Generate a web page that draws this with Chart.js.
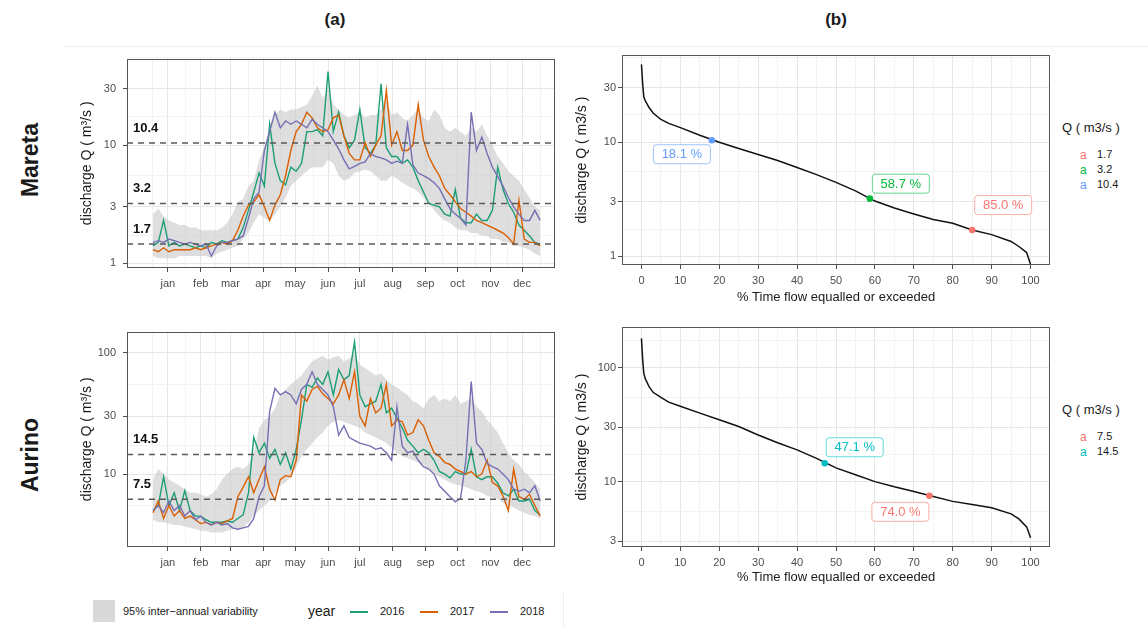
<!DOCTYPE html>
<html>
<head>
<meta charset="utf-8">
<script src="https://cdn.jsdelivr.net/npm/chart.js@4.4.1/dist/chart.umd.min.js"></script>
<style>
  body { margin: 0; background: #fff; font-family: "Liberation Sans", Arial, sans-serif; }
  #fig { position: relative; width: 1148px; height: 627px; overflow: hidden; background: #fff; }
  #fig canvas { position: absolute; }
  .t { position: absolute; white-space: nowrap; color: #1a1a1a; line-height: 1; }
  .c { transform: translate(-50%, -50%); }
  .rot { transform: translate(-50%, -50%) rotate(-90deg); }
  .sep { position: absolute; background: #eeeeee; }
</style>
</head>
<body>
<div id="fig">
  <div class="sep" style="left:65px;top:46px;width:1083px;height:1px"></div>
  <div class="sep" style="left:563px;top:592px;width:1px;height:35px"></div>

  <div class="t c" style="left:335px;top:19px;font-size:17px;font-weight:bold">(a)</div>
  <div class="t c" style="left:836px;top:19px;font-size:17px;font-weight:bold">(b)</div>
  <div class="t rot" style="left:30px;top:160px;font-size:23px;font-weight:bold">Mareta</div>
  <div class="t rot" style="left:30px;top:455px;font-size:23px;font-weight:bold">Aurino</div>

  <canvas id="hydroMareta" width="505" height="255" style="left:60px;top:45px"></canvas>
  <canvas id="fdcMareta" width="490" height="270" style="left:570px;top:45px"></canvas>
  <canvas id="hydroAurino" width="505" height="260" style="left:60px;top:318px"></canvas>
  <canvas id="fdcAurino" width="490" height="280" style="left:570px;top:318px"></canvas>

  <div id="legMareta"></div>
  <div id="legAurino"></div>

  <!-- legenda in basso -->
  <div style="position:absolute;left:93px;top:600px;width:22px;height:22px;background:#d9d9d9"></div>
  <div class="t" style="left:123px;top:606px;font-size:11px">95% inter&#8722;annual variability</div>
  <div class="t" style="left:308px;top:604px;font-size:14px">year</div>
  <div style="position:absolute;left:350px;top:611px;width:18px;height:2px;background:#1b9e77"></div>
  <div class="t" style="left:380px;top:606px;font-size:11px">2016</div>
  <div style="position:absolute;left:420px;top:611px;width:18px;height:2px;background:#d95f02"></div>
  <div class="t" style="left:450px;top:606px;font-size:11px">2017</div>
  <div style="position:absolute;left:490px;top:611px;width:18px;height:2px;background:#7570b3"></div>
  <div class="t" style="left:520px;top:606px;font-size:11px">2018</div>
</div>

<script>
// ---- giorni dell'anno (passo 5) e mesi ----
const days = [1,6,11,16,21,26,31,36,41,46,51,56,61,66,71,76,81,86,91,96,101,106,111,116,121,126,131,136,141,146,
  151,156,161,166,171,176,181,186,191,196,201,206,211,216,221,226,231,236,241,246,251,256,261,266,271,276,281,286,291,296,
  301,306,311,316,321,326,331,336,341,346,351,356,361,366];
const monthNames = ['jan','feb','mar','apr','may','jun','jul','aug','sep','oct','nov','dec'];
const monthMid   = [15,46,74,105,135,166,196,227,258,288,319,349];
const monthStart = [1,32,60,91,121,152,182,213,244,274,305,335,366];

// ---- Mareta: portata giornaliera (m3/s) ----
const maretaQ2016 = [1.4,1.5,2.3,1.4,1.5,1.4,1.45,1.4,1.35,1.4, 1.35,1.5,1.45,1.55,1.5,1.55,1.6,2.0,2.8,4.0,
  5.8,4.5,15,7.0,5.0,4.6,6.5,6.0,7.0,13, 13,13.5,12,42,13,19,12,9.5,11,20, 9.5,8.5,10,33,9.5,8,8,7,7.5,6.5,
  5,4.0,3.2,3.1,3.0,2.6,2.5,4.2,2.4,2.2, 2.2,2.6,2.3,2.3,2.8,6.5,4.2,3.2,2.7,2.1, 1.9,1.7,1.5,1.45];
const maretaQ2017 = [1.3,1.25,1.35,1.25,1.3,1.3,1.3,1.3,1.35,1.3, 1.35,1.4,1.45,1.5,1.45,1.55,1.9,2.5,3.1,3.3,
  3.8,3.0,2.3,3.1,3.8,5.5,9,13,15,19, 17,14,13,13.5,17,18,12,8.5,7.5,7.5, 10.5,8,10,12,29,10,13,9,9,10,
  22,11,8,6.5,5.5,4.3,3.8,3.3,2.9,2.7, 2.5,2.3,2.2,2.1,2.0,1.9,1.8,1.65,1.45,3.4, 1.6,1.5,1.5,1.4];
const maretaQ2018 = [1.5,1.55,1.5,1.6,1.55,1.5,1.45,1.5,1.45,1.4, 1.45,1.15,1.4,1.5,1.5,1.55,1.6,1.7,2.4,3.5,
  4.0,9,13,19,14,16,15,16,15,14, 16.5,15,14,13,11,9.3,7.5,6.3,6.6,7, 7.2,8.5,8,7.8,7.5,7,7.3,7,15,6.8,
  5.8,5.5,5.2,4.8,4.3,3.5,2.9,2.6,2.4,2.1, 19,9,11.7,8.5,6.5,5.4,4.5,3.6,3.0,2.6, 2.3,2.3,2.8,2.3];
const maretaBandHi = [2.6,2.9,2.5,2.3,2.2,2.1,2.1,2.0,2.0,1.9, 1.9,1.9,1.9,2.0,2.2,2.6,3.3,3.5,4.5,5,
  7.5,9.5,15,18,20,19,20,20,21,22, 26,32,25,30,22,20,18,17,18,19, 17,18,18,20,24,18,19,17,16,18,
  20,17,16,20,18,14,13,14,13,12, 14,13,15,12,10,8,7,6,5.5,5, 4.2,3.6,3.0,2.8];
const maretaBandLo = [1.15,1.1,1.1,1.1,1.1,1.15,1.15,1.15,1.15,1.15, 1.15,1.1,1.2,1.25,1.3,1.35,1.4,1.6,1.8,2.2,
  2.6,2.4,2.3,2.6,3.0,3.6,4.5,5,5.5,6, 6.5,6.5,6.5,7.5,7,5.5,5,5.2,5.8,6, 6.2,6,5.5,5,5,5.5,5.2,4.8,4.5,4.3,
  4.0,3.6,3.2,2.8,2.5,2.3,2.2,2.0,1.9,1.9, 1.8,1.8,1.7,1.7,1.6,1.6,1.5,1.5,1.4,1.4, 1.35,1.3,1.2,1.15];

// ---- Aurino: portata giornaliera (m3/s) ----
const aurinoQ2016 = [5.0,5.5,9.5,5.5,7.0,5.0,7.3,5.0,4.5,4.5, 4.2,4.0,4.0,4.0,4.1,4.0,4.3,4.6,7.0,20,
  15,18,13.5,16,12,15,11,16,28,55, 52,62,55,70,45,73,60,65,123,45, 36,38,40,55,32,35,29,24,19,17,
  15,16,15,13,10.5,10,9.3,10.5,10,10, 16,9.5,9,9.5,9.5,8.4,7,6.6,7.5,6, 6,6.2,5,4.6];
const aurinoQ2017 = [4.8,6,4.3,5.5,4.5,5,4.3,4.5,4.2,3.9, 4.0,3.8,4.0,3.9,4.1,4.3,6.5,7.8,9.5,7,
  9,11.5,7.5,6.1,9,9.7,9.5,13,45,40, 50,53,46,42,38,45,60,42,70,30, 25,42,32,35,55,25,28,27,21,22,
  28,25,19,15,14,12.5,12,11,10.5,10, 10.5,9.5,10,13,8.5,8,6.6,5,11,6.5, 6.2,6.8,5.5,4.5];
const aurinoQ2018 = [5,5.5,4.8,6,5,5.5,4.5,5,4.2,4.5, 4.0,3.8,4.0,3.8,3.9,3.6,3.5,3.6,3.7,4.3,
  6.5,8,33,51,45,48,45,38,50,55, 70,55,50,45,36,21,25,20,19,18, 17.5,17,16,16.5,15,13,36,17,15,15.5,
  13,11.5,11,10,8,7.2,6.5,5.9,6.3,13, 58,18,16,12.2,11.5,11,10,9,7.5,7.2, 7.5,7,8,6];
const aurinoBandHi = [9,11,10,9,8.5,8,7.5,7,7,6.8, 6.5,6.8,7.5,9,10,11,11.5,11,12,15,
  24,28,30,35,45,50,55,60,65,75, 85,90,95,88,92,95,85,90,100,80, 75,70,65,68,60,55,52,48,45,40,
  38,35,42,45,40,42,40,45,38,40, 42,36,33,28,25,22,18,15,13,12, 10.5,9.5,8.5,7.5];
const aurinoBandLo = [4.2,4.0,4.0,3.9,3.8,3.8,3.7,3.6,3.5,3.4, 3.4,3.3,3.3,3.3,3.4,3.5,3.5,3.6,4.0,4.5,
  5,5.5,6.0,7.0,8,8.5,9.5,11.5,14,16, 18,20,22,25,27,28,27,26,25,24, 22,21,20,19,18,16.5,15,14,13.5,13,
  12.5,12,11,10,9.5,9,8.5,8.2,8,7.8, 7.5,7.2,7,6.6,6.4,6.2,5.8,5.5,5.3,5.0, 4.8,4.6,4.5,4.3];

// ---- soglie ----
const maretaThrLabels = ['10.4','3.2','1.7'];
const maretaThrLevel  = [10.4, 3.2, 1.45];
const aurinoThrLabels = ['14.5','7.5'];
const aurinoThrLevel  = [14.5, 6.2];

// ---- curve di durata ----
const fdcPct     = [0,0.3,0.6,1,2,3,5,7,10,15,20,25,30,35,40,45,50,55,60,65,70,75,80,85,90,95,97,99,100];
const fdcQMareta = [48,33,25,23,20,18,15.8,14.6,13.4,11.5,10,8.8,7.8,6.9,6.0,5.2,4.45,3.75,3.05,2.65,2.35,2.1,1.95,1.7,1.55,1.35,1.22,1.08,0.85];
const fdcQAurino = [182,120,90,80,68,61,55,50,46,40,35,30.5,25.7,22,19,16,13.2,11.5,10,9,8.2,7.4,6.7,6.3,5.9,5.2,4.7,4.0,3.2];
const markPctMareta  = [85.0, 58.7, 18.1];
const markQMareta    = [1.7, 3.2, 10.4];
const markTextMareta = ['85.0 %','58.7 %','18.1 %'];
const markPctAurino  = [74.0, 47.1];
const markQAurino    = [7.5, 14.5];
const markTextAurino = ['74.0 %','47.1 %'];

// ---- tick ----
const yTicksMareta = [1,3,10,30];      const yMinorMareta = [1.73,5.48,17.3,54.8];
const yTicksAurino = [10,30,100];      const yMinorAurino = [5.48,17.3,54.8];
const yTicksFdcA   = [3,10,30,100];    const yMinorFdcA   = [5.48,17.3,54.8,173];
const pctTicks = [0,10,20,30,40,50,60,70,80,90,100];
const pctMinor = [5,15,25,35,45,55,65,75,85,95];

// ─────────────────────────────────────────────────────────────
const FONT = '"Liberation Sans", Arial, sans-serif';
Chart.defaults.font.family = FONT;
const red = '#F8766D', green = '#00BA38', blue = '#619CFF', teal = '#00BFC4';

const gridOpts = minor => ({
  color:     c => (c.tick && minor.includes(c.tick.value)) ? '#f3f3f3' : '#e6e6e6',
  tickColor: c => (c.tick && minor.includes(c.tick.value)) ? 'rgba(0,0,0,0)' : '#4d4d4d',
  tickLength: 4, lineWidth: 1
});

const panelBorder = {
  id: 'panelBorder',
  afterDraw(chart) {
    const { ctx, chartArea: a } = chart;
    ctx.save();
    ctx.strokeStyle = '#555';
    ctx.lineWidth = 1;
    ctx.strokeRect(Math.round(a.left) + 0.5, Math.round(a.top) + 0.5, Math.round(a.width) - 1, Math.round(a.height) - 1);
    ctx.restore();
  }
};

const thrText = {
  id: 'thrText',
  afterDatasetsDraw(chart, args, o) {
    const { ctx, chartArea, scales: { y } } = chart;
    ctx.save();
    ctx.font = 'bold 13px ' + FONT;
    ctx.fillStyle = '#111';
    ctx.textBaseline = 'middle';
    o.levels.forEach((v, i) => ctx.fillText(o.labels[i], chartArea.left + 6, y.getPixelForValue(v) - 15));
    ctx.restore();
  }
};

const markLabels = {
  id: 'markLabels',
  afterDatasetsDraw(chart, args, o) {
    const { ctx, scales: { x, y } } = chart;
    ctx.save();
    ctx.font = '13px ' + FONT;
    ctx.textAlign = 'center';
    ctx.textBaseline = 'middle';
    o.pct.forEach((p, i) => {
      const cx = x.getPixelForValue(p) + o.off[i][0];
      const cy = y.getPixelForValue(o.q[i]) + o.off[i][1];
      const w = 57, h = 19;
      ctx.beginPath();
      ctx.roundRect(cx - w / 2, cy - h / 2, w, h, 3);
      ctx.fillStyle = '#fff';
      ctx.fill();
      ctx.strokeStyle = o.colors[i];
      ctx.globalAlpha = 0.6;
      ctx.lineWidth = 1;
      ctx.stroke();
      ctx.globalAlpha = 1;
      ctx.fillStyle = o.colors[i];
      ctx.fillText(o.text[i], cx, cy + 0.5);
    });
    ctx.restore();
  }
};

function logAxis(ticks, minor, min, max, title, pad, width) {
  const all = ticks.concat(minor).sort((a, b) => a - b);
  return {
    type: 'logarithmic', position: 'left', min, max,
    afterBuildTicks: s => { s.ticks = all.map(v => ({ value: v })); },
    afterFit: s => { s.width = width; },
    ticks: { autoSkip: false, color: '#4d4d4d', font: { size: 11 }, padding: pad,
             callback: v => ticks.includes(v) ? String(v) : '' },
    grid: gridOpts(minor),
    border: { display: false },
    title: { display: true, text: title, color: '#1a1a1a', font: { size: 14 }, padding: { top: 4, bottom: 0 } }
  };
}

function hydroChart(id, q16, q17, q18, hi, lo, thrLevel, thrLabels, yr, yTicks, yMinor, xH, pad) {
  const pts = arr => days.map((d, i) => ({ x: d, y: arr[i] }));
  const xMin = -23.5, xMax = 380;
  const line = (arr, col, ord) => ({ data: pts(arr), borderColor: col, borderWidth: 1.4, pointRadius: 0, fill: false, order: ord });
  const datasets = [
    { data: pts(lo), borderWidth: 0, pointRadius: 0, fill: false, order: 10 },
    { data: pts(hi), borderWidth: 0, pointRadius: 0, fill: '-1', backgroundColor: 'rgba(195,195,195,0.55)', order: 9 },
    line(q16, '#1b9e77', 5),
    line(q17, '#d95f02', 4),
    line(q18, '#7570b3', 3)
  ];
  thrLevel.forEach(v => datasets.push({
    data: [{ x: xMin, y: v }, { x: xMax, y: v }], borderColor: '#5a5a5a', borderWidth: 1.5,
    borderDash: [6, 5], pointRadius: 0, fill: false, order: 1
  }));
  const xAll = monthMid.concat(monthStart).sort((a, b) => a - b);
  new Chart(document.getElementById(id), {
    type: 'line',
    data: { datasets },
    plugins: [panelBorder, thrText],
    options: {
      responsive: false, animation: false, devicePixelRatio: 1,
      layout: { padding: pad },
      plugins: { legend: { display: false }, tooltip: { enabled: false },
                 thrText: { levels: thrLevel, labels: thrLabels } },
      scales: {
        x: {
          type: 'linear', min: xMin, max: xMax,
          afterBuildTicks: s => { s.ticks = xAll.map(v => ({ value: v })); },
          afterFit: s => { s.height = xH; },
          ticks: { autoSkip: false, maxRotation: 0, color: '#4d4d4d', font: { size: 11 }, padding: 5,
                   callback: v => { const k = monthMid.indexOf(v); return k >= 0 ? monthNames[k] : ''; } },
          grid: gridOpts(monthStart),
          border: { display: false }
        },
        y: logAxis(yTicks, yMinor, yr[0], yr[1], 'discharge Q ( m\u00b3/s )', 7, 52)
      }
    }
  });
}

function fdcChart(id, q, mPct, mQ, mText, mColors, offs, yr, yTicks, yMinor, xH, pad, titlePadBottom) {
  const all = pctTicks.concat(pctMinor).sort((a, b) => a - b);
  new Chart(document.getElementById(id), {
    type: 'line',
    data: { datasets: [
      { data: fdcPct.map((p, i) => ({ x: p, y: q[i] })), borderColor: '#111', borderWidth: 1.5, pointRadius: 0, fill: false, order: 2 },
      { type: 'scatter', data: mPct.map((p, i) => ({ x: p, y: mQ[i] })), backgroundColor: mColors, pointBackgroundColor: mColors,
        pointBorderWidth: 0, pointRadius: 3.3, order: 1 }
    ] },
    plugins: [panelBorder, markLabels],
    options: {
      responsive: false, animation: false, devicePixelRatio: 1,
      layout: { padding: pad },
      plugins: { legend: { display: false }, tooltip: { enabled: false },
                 markLabels: { pct: mPct, q: mQ, text: mText, colors: mColors, off: offs } },
      scales: {
        x: {
          type: 'linear', min: -5, max: 105,
          afterBuildTicks: s => { s.ticks = all.map(v => ({ value: v })); },
          afterFit: s => { s.height = xH; },
          ticks: { autoSkip: false, maxRotation: 0, color: '#4d4d4d', font: { size: 11 }, padding: 5,
                   callback: v => pctTicks.includes(v) ? String(v) : '' },
          grid: gridOpts(pctMinor),
          border: { display: false },
          title: { display: true, text: '% Time flow equalled or exceeded', color: '#1a1a1a', font: { size: 13 },
                   padding: { top: 0, bottom: titlePadBottom } }
        },
        y: logAxis(yTicks, yMinor, yr[0], yr[1], 'discharge Q ( m3/s )', 2, 52)
      }
    }
  });
}

function legendQ(elId, top, labels, colors) {
  const el = document.getElementById(elId);
  let html = `<div class="t" style="left:1062px;top:${top - 7}px;font-size:13px">Q ( m3/s )</div>`;
  labels.forEach((l, i) => {
    const y = top + 27 + i * 15;
    html += `<div class="t" style="left:1080px;top:${y - 6}px;font-size:12px;color:${colors[i]}">a</div>`;
    html += `<div class="t" style="left:1097px;top:${y - 6}px;font-size:11px">${l}</div>`;
  });
  el.innerHTML = html;
}

hydroChart('hydroMareta', maretaQ2016, maretaQ2017, maretaQ2018, maretaBandHi, maretaBandLo,
  maretaThrLevel, maretaThrLabels, [0.91, 54], yTicksMareta, yMinorMareta, 32,
  { left: 15, right: 10, top: 10, bottom: 0 });
hydroChart('hydroAurino', aurinoQ2016, aurinoQ2017, aurinoQ2018, aurinoBandHi, aurinoBandLo,
  aurinoThrLevel, aurinoThrLabels, [2.5, 150], yTicksAurino, yMinorAurino, 31,
  { left: 15, right: 10, top: 10, bottom: 0 });

fdcChart('fdcMareta', fdcQMareta, markPctMareta, markQMareta, markTextMareta, [red, green, blue],
  [[31, -25], [31, -15], [-30, 14]], [0.84, 58], yTicksMareta, yMinorMareta, 50,
  { left: 0, right: 10, top: 10, bottom: 0 }, 10);
fdcChart('fdcAurino', fdcQAurino, markPctAurino, markQAurino, markTextAurino, [red, teal],
  [[-29, 16], [30, -16]], [2.66, 229], yTicksFdcA, yMinorFdcA, 51,
  { left: 0, right: 10, top: 9, bottom: 0 }, 13);

legendQ('legMareta', 128, ['1.7', '3.2', '10.4'], [red, green, blue]);
legendQ('legAurino', 410, ['7.5', '14.5'], [red, teal]);
</script>
</body>
</html>
